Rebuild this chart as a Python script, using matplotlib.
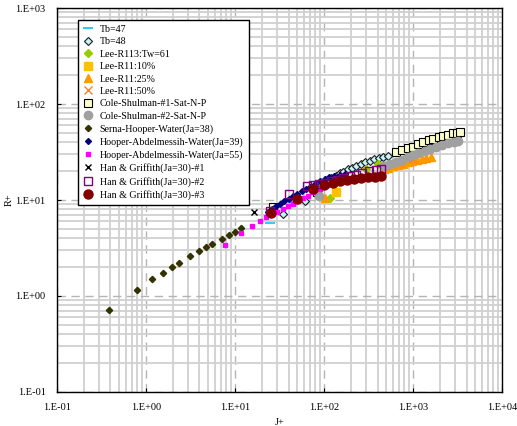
import math
import matplotlib
matplotlib.use('Agg')
import matplotlib.pyplot as plt
from matplotlib.ticker import LogLocator, FuncFormatter

plt.rcParams['font.family'] = ['Liberation Serif', 'DejaVu Serif']

# --- data (J+, R+) ---
tb47_x = [24.7, 45, 80]
tb47_y = [5.74, 9.5, 13.5]

tb48_x = [34.4, 61.7, 90, 105, 120, 135, 150, 165, 185, 205, 230, 260, 290, 325, 365, 410, 460, 520]
tb48_y = [7.08, 9.84, 14.8, 15.9, 17.0, 18.0, 19.0, 19.8, 20.8, 21.7, 22.7, 23.7, 24.7, 25.6, 26.5, 27.4, 28.2, 29.0]

r113_x = [117, 300, 400]
r113_y = [10.6, 21.0, 23.5]

r11_10_x = [136]
r11_10_y = [12.2]

r11_25_x = [102, 470, 530, 600, 680, 770, 870, 980, 1100, 1250, 1400, 1600]
r11_25_y = [10.6, 21.0, 21.7, 22.5, 23.2, 24.0, 24.8, 25.5, 26.2, 26.8, 27.4, 28.0]

r11_50_x = [480, 700, 1000]
r11_50_y = [22.5, 24.5, 27.0]

cole1_x = [26.9, 83.4, 650, 760, 880, 1000, 1150, 1300, 1500,
           1700, 1950, 2200, 2500, 2800, 3100, 3400]
cole1_y = [8.4, 12.2, 31.5, 33.0, 34.5, 35.8, 38.0, 40.0, 42.0,
           43.5, 45.0, 46.5, 48.0, 49.5, 50.5, 51.5]

cole2_x = [88, 470, 550, 640, 750, 870, 1000, 1150, 1350, 1550, 1800, 2100, 2500, 2900, 3200]
cole2_y = [11.1, 22.5, 23.8, 25.0, 26.3, 27.8, 29.3, 30.8, 32.5, 34.0, 35.7, 37.5, 39.3, 40.6, 41.5]

serna_x = [0.39, 0.785, 1.18, 1.56, 1.98, 2.35, 3.12, 3.94, 4.72, 5.56, 7.08, 8.63, 10.1, 11.7]
serna_y = [0.72, 1.15, 1.49, 1.75, 2.0, 2.23, 2.61, 2.95, 3.2, 3.46, 3.91, 4.3, 4.66, 5.05]

hooper39_x = [23.5, 26, 29, 32, 36, 40, 45, 50, 56, 63, 70, 80, 90, 102, 115, 130, 150, 172]
hooper39_y = [7.5, 8.0, 8.6, 9.1, 9.7, 10.3, 11.0, 11.6, 12.3, 13.0, 13.7, 14.7, 15.9, 16.5, 17.2, 17.9, 18.4, 18.8]

hooper55_x = [7.78, 11.7, 15.7, 19.3, 22.5, 26, 29.9, 34.4, 39.8, 45.3, 51.5, 58.6, 66, 76, 90, 105, 120]
hooper55_y = [3.4, 4.5, 5.4, 6.05, 6.6, 7.08, 7.53, 8.05, 8.6, 9.15, 9.68, 10.4, 11.1, 12.0, 13.0, 14.0, 14.9]

han1_x = [16.3]
han1_y = [7.5]

han2_x = [24.7, 40.7, 64, 75, 88, 102, 120, 140, 165, 195, 230, 270, 320, 380, 440]
han2_y = [7.7, 11.6, 14.1, 14.4, 14.8, 15.2, 15.7, 16.1, 16.8, 17.6, 18.4, 19.2, 20.0, 20.6, 21.2]

han3_x = [25.1, 50, 74.6, 100, 125, 151, 180, 215, 260, 310, 370, 440]
han3_y = [7.3, 10.2, 13.0, 14.4, 15.1, 15.6, 16.1, 16.5, 16.9, 17.2, 17.5, 17.7]

fig = plt.figure(figsize=(5.17, 4.26), dpi=100)
ax = fig.add_axes([0.110, 0.080, 0.861, 0.901])

ax.plot(tb47_x, tb47_y, ls='none', marker='_', ms=7, mew=1.5, color='#33ccff', label='Tb=47')
ax.plot(tb48_x, tb48_y, ls='none', marker='D', ms=4, mfc='#c8f4fa', mec='#1a1a1a', mew=0.8, label='Tb=48')
ax.plot(r113_x, r113_y, ls='none', marker='D', ms=4.5, color='#99cc00', label='Lee-R113:Tw=61')
ax.plot(r11_10_x, r11_10_y, ls='none', marker='s', ms=5.5, color='#ffc000', label='Lee-R11:10%')
ax.plot(r11_25_x, r11_25_y, ls='none', marker='^', ms=6, color='#ff9900', label='Lee-R11:25%')
ax.plot(r11_50_x, r11_50_y, ls='none', marker='x', ms=6, mew=1, color='#ff7f27', label='Lee-R11:50%')
ax.plot(cole1_x, cole1_y, ls='none', marker='s', ms=5.5, mfc='#ffffcc', mec='black', mew=0.8,
        label='Cole-Shulman-#1-Sat-N-P')
ax.plot(cole2_x, cole2_y, ls='none', marker='o', ms=6, color='#a0a0a0', label='Cole-Shulman-#2-Sat-N-P')
ax.plot(serna_x, serna_y, ls='none', marker='D', ms=3.2, color='#333300', label='Serna-Hooper-Water(Ja=38)')
ax.plot(hooper39_x, hooper39_y, ls='none', marker='D', ms=3, color='#000080',
        label='Hooper-Abdelmessih-Water(Ja=39)')
ax.plot(hooper55_x, hooper55_y, ls='none', marker='s', ms=3.5, color='#ff00ff',
        label='Hooper-Abdelmessih-Water(Ja=55)')
ax.plot(han1_x, han1_y, ls='none', marker='x', ms=5, mew=1, color='black', label='Han & Griffith(Ja=30)-#1')
ax.plot(han2_x, han2_y, ls='none', marker='s', ms=5.2, mfc='none', mec='#800080', mew=1.0,
        label='Han & Griffith(Ja=30)-#2')
ax.plot(han3_x, han3_y, ls='none', marker='o', ms=6.5, color='#800000', label='Han & Griffith(Ja=30)-#3')

ax.set_xscale('log')
ax.set_yscale('log')
ax.set_xlim(0.1, 1e4)
ax.set_ylim(0.1, 1e3)

ax.xaxis.set_minor_locator(LogLocator(base=10, subs=range(2, 10), numticks=20))
ax.yaxis.set_minor_locator(LogLocator(base=10, subs=range(2, 10), numticks=20))
fmt = FuncFormatter(lambda v, p: '1.E%+03d' % round(math.log10(v)))
ax.xaxis.set_major_formatter(fmt)
ax.yaxis.set_major_formatter(fmt)

ax.grid(which='minor', color='#d0d0d0', lw=1.3, ls='-')
ax.grid(which='major', color='#b4b4b4', lw=1.0, ls=(0, (6, 4)))
ax.set_axisbelow(True)
ax.tick_params(which='major', direction='in', length=3, labelsize=7.5, pad=8)
ax.tick_params(which='minor', length=0)
for s in ax.spines.values():
    s.set_linewidth(1.0)

ax.set_xlabel('J+', fontsize=7.5, labelpad=4)
ax.set_ylabel('R+', fontsize=7.5, labelpad=1)

leg = ax.legend(loc='upper left', bbox_to_anchor=(0.047, 0.969), fontsize=7.2, labelspacing=0.34,
                handletextpad=0.6, handlelength=1.1, borderpad=0.5, fancybox=False, framealpha=1,
                edgecolor='black', numpoints=1, borderaxespad=0)
leg.get_frame().set_linewidth(1.0)

fig.savefig('out.png', dpi=100)
